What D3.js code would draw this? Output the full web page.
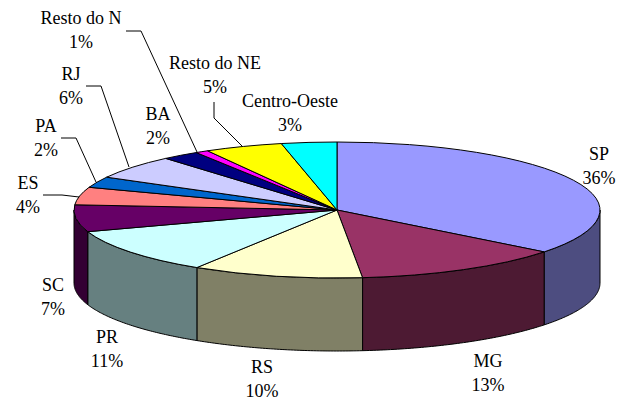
<!DOCTYPE html>
<html>
<head>
<meta charset="utf-8">
<script src="https://cdn.jsdelivr.net/npm/d3@7"></script>
<style>
  html, body { margin: 0; padding: 0; background: #fff; }
  svg { display: block; }
  text { font-family: "Liberation Serif", serif; font-size: 18px; fill: #000; }
</style>
</head>
<body>
<div id="chart"></div>
<script>
const categories = ["SP", "MG", "RS", "PR", "SC", "ES", "PA", "RJ", "BA", "Resto do N", "Resto do NE", "Centro-Oeste"];
const shares = [35.6, 12.9, 10.5, 10.9, 6.4, 4.2, 2.6, 5.7, 2.3, 0.8, 4.8, 3.4];
const percentLabels = ["36%", "13%", "10%", "11%", "7%", "4%", "2%", "6%", "2%", "1%", "5%", "3%"];
const topColors = ["#9999FF", "#993366", "#FFFFCC", "#CCFFFF", "#660066", "#FF8080", "#0066CC", "#CCCCFF", "#000080", "#FF00FF", "#FFFF00", "#00FFFF"];

const width = 619;
const height = 401;
const cx = 337;
const cy = 210;
const rx = 263;
const ry = 68;
const depth = 73;

// label centre x, first baseline y, per category
const labelPos = [
  [599, 160], [488, 367], [262, 373], [107, 343], [53, 291], [28, 189],
  [46, 132], [71, 80], [158, 120], [81, 24], [215, 69], [290, 107]
];
const leaders = [
  [[126, 31], [141, 31], [197, 152]],
  [[86, 86], [101, 86], [129, 167]],
  [[61, 138], [76, 138], [96, 182]],
  [[43, 195], [62, 195], [79, 197]],
  [[214, 102], [214, 118], [242, 146]]
];

const svg = d3.select("#chart").append("svg").attr("width", width).attr("height", height);

const slices = d3.pie().sort(null).value((d) => d)(shares);

const px = (t) => cx + rx * Math.sin(t);
const py = (t) => cy - ry * Math.cos(t);
const line = d3.line().x((d) => d[0]).y((d) => d[1]);

// wall = front part of the rim, only between 90deg and 270deg from the top
const wallPath = (s) => {
  const a = Math.max(s.startAngle, Math.PI / 2);
  const b = Math.min(s.endAngle, (3 * Math.PI) / 2);
  if (b <= a) return null;
  const ts = d3.range(0, 61).map((i) => a + ((b - a) * i) / 60);
  const upper = ts.map((t) => [px(t), py(t)]);
  const lower = ts.slice().reverse().map((t) => [px(t), py(t) + depth]);
  return line(upper.concat(lower)) + "Z";
};

svg
  .append("g")
  .selectAll("path")
  .data(slices.filter((s) => wallPath(s)))
  .enter()
  .append("path")
  .attr("d", wallPath)
  .attr("fill", (s) => d3.interpolateRgb(topColors[s.index], "#000")(0.5))
  .attr("stroke", "#000")
  .attr("stroke-width", 1)
  .attr("stroke-linejoin", "round");

const arc = d3.arc().innerRadius(0).outerRadius(rx);

svg
  .append("g")
  .attr("transform", `translate(${cx},${cy}) scale(1,${ry / rx})`)
  .selectAll("path")
  .data(slices)
  .enter()
  .append("path")
  .attr("d", arc)
  .attr("fill", (s) => topColors[s.index])
  .attr("stroke", "#000")
  .attr("stroke-width", 1)
  .attr("stroke-linejoin", "round")
  .attr("vector-effect", "non-scaling-stroke");

svg
  .append("g")
  .selectAll("path")
  .data(leaders)
  .enter()
  .append("path")
  .attr("d", line)
  .attr("fill", "none")
  .attr("stroke", "#000")
  .attr("stroke-width", 1);

const labels = svg
  .append("g")
  .selectAll("text")
  .data(categories)
  .enter()
  .append("text")
  .attr("text-anchor", "middle")
  .attr("transform", (d, i) => `translate(${labelPos[i][0]},${labelPos[i][1]})`);

labels.append("tspan").attr("x", 0).attr("y", 0).text((d) => d);
labels.append("tspan").attr("x", 0).attr("y", 23.5).text((d, i) => percentLabels[i]);
</script>
</body>
</html>
